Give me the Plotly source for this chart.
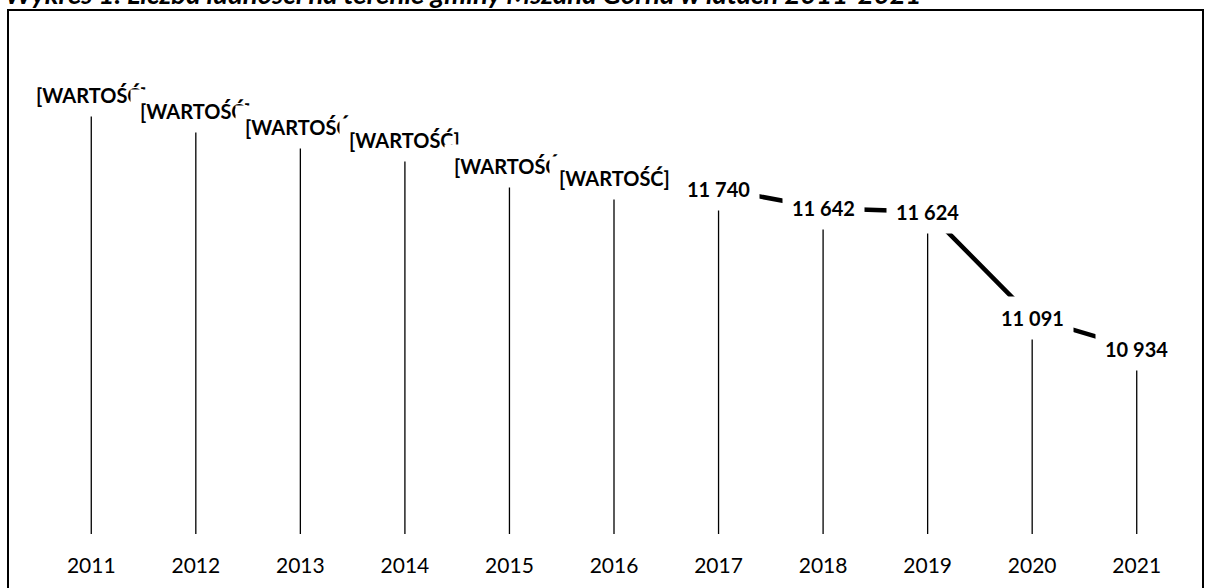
import plotly.graph_objects as go

# ---- data ----
years = ["2011", "2012", "2013", "2014", "2015", "2016", "2017", "2018", "2019", "2020", "2021"]
population = [12212, 12131, 12050, 11985, 11854, 11793, 11740, 11642, 11624, 11091, 10934]
label_placeholder = "[WARTOŚĆ]"
placeholder_count = 6          # first six labels show the broken field code
line_start = 6                 # the thick line is drawn from 2017 onwards
title_text = "Wykres 1. Liczba ludności na terenie gminy Mszana Górna w latach 2011-2021"
y_min, y_max = 10000, 12500

labels = [label_placeholder if i < placeholder_count else f"{v:,}".replace(",", " ")
          for i, v in enumerate(population)]

# ---- layout geometry (pixels) ----
W, H = 1205, 588
L, R, T, B = 39, 1189, 38, 534


def px_x(p):
    return (p - L) / (R - L)


def px_y(p):
    return (B - p) / (B - T)


fig = go.Figure()

# drop lines from each point to the category axis
fig.add_trace(go.Scatter(
    x=years, y=population, mode="markers",
    marker=dict(size=1, color="rgba(0,0,0,0)"),
    error_y=dict(type="data", symmetric=False, array=[0] * len(population),
                 arrayminus=[v - y_min for v in population],
                 color="black", thickness=1.3, width=0),
    hoverinfo="skip", showlegend=False,
))

# thick line (2017-2021)
fig.add_trace(go.Scatter(
    x=years[line_start:], y=population[line_start:], mode="lines",
    line=dict(color="black", width=4.5), showlegend=False, hoverinfo="skip",
))

annotations = []
for i, (v, t) in enumerate(zip(population, labels)):
    annotations.append(dict(
        x=i, y=v, xref="x", yref="y", text=f"<b>{t}</b>", showarrow=False,
        font=dict(family="Lato", size=20, color="black"),
        bgcolor="white", borderpad=9, xanchor="center", yanchor="middle",
    ))

annotations.append(dict(
    x=px_x(3), y=px_y(12), xref="paper", yref="paper", xanchor="left", yanchor="bottom",
    text=f"<b><i>{title_text}</i></b>", showarrow=False,
    font=dict(family="Lato", size=27.5, color="black"),
))

fig.update_layout(
    width=W, height=H,
    margin=dict(l=L, r=W - R, t=T, b=H - B, pad=0, autoexpand=False),
    paper_bgcolor="white", plot_bgcolor="white",
    showlegend=False,
    annotations=annotations,
    shapes=[dict(type="rect", xref="paper", yref="paper",
                 x0=px_x(8), x1=px_x(1203), y0=px_y(620), y1=px_y(10),
                 line=dict(color="black", width=2), fillcolor="rgba(0,0,0,0)", layer="below")],
    xaxis=dict(type="category", categoryorder="array", categoryarray=years,
               showgrid=False, showline=False, zeroline=False, ticks="",
               tickfont=dict(family="Lato", size=21, color="black"),
               ticklabelstandoff=17, automargin=False,
               range=[-0.5, len(years) - 0.5]),
    yaxis=dict(range=[y_min, y_max], visible=False, showgrid=False, zeroline=False,
               automargin=False),
)

fig.write_html("out.html", config={"displayModeBar": False},
               post_script="document.body.style.margin='0';")
